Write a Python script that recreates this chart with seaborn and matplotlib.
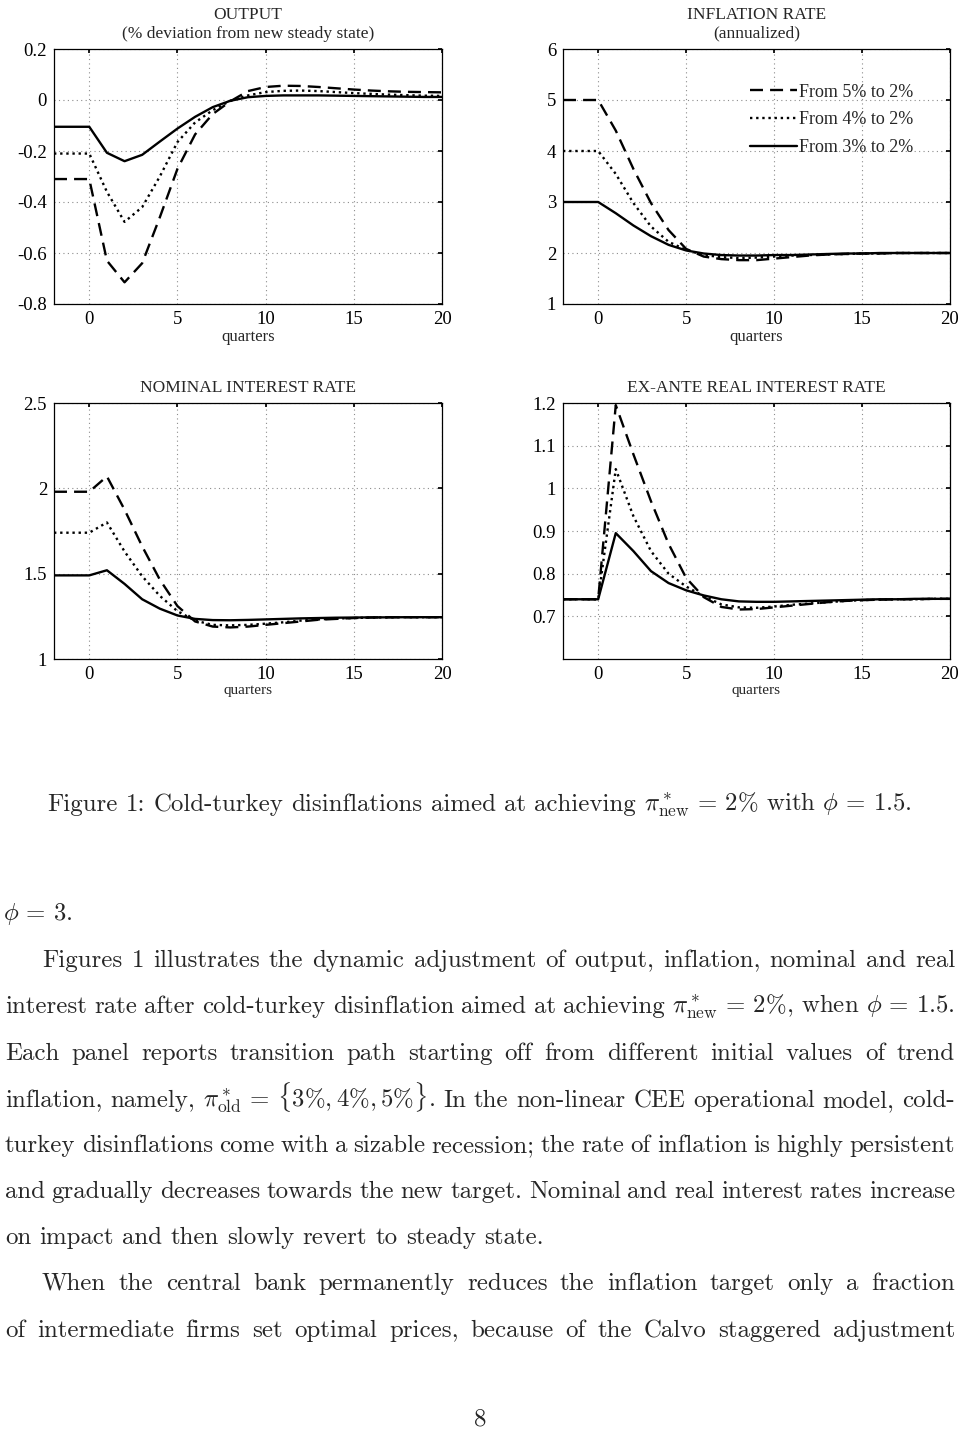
import re

import numpy as np
import pandas as pd
import matplotlib

matplotlib.use("Agg")
import matplotlib.pyplot as plt
from matplotlib.ticker import FuncFormatter
import seaborn as sns

W, H, DPI = 960, 1440, 100

# ---- data (quarters -2 .. 20) ----
quarters = list(range(-2, 21))
labels = ["From 5% to 2%", "From 4% to 2%", "From 3% to 2%"]

output_5 = [-0.31, -0.31, -0.31, -0.63, -0.715, -0.64, -0.46, -0.27, -0.135, -0.055, -0.005,
            0.035, 0.051, 0.056, 0.055, 0.051, 0.046, 0.041, 0.037, 0.034, 0.032, 0.031, 0.030]
output_4 = [-0.21, -0.21, -0.21, -0.36, -0.478, -0.42, -0.30, -0.165, -0.088, -0.04, -0.003,
            0.018, 0.031, 0.036, 0.037, 0.035, 0.031, 0.027, 0.024, 0.021, 0.019, 0.017, 0.016]
output_3 = [-0.105, -0.105, -0.105, -0.207, -0.240, -0.215, -0.163, -0.112, -0.066, -0.028, -0.003,
            0.011, 0.016, 0.018, 0.018, 0.018, 0.017, 0.016, 0.015, 0.014, 0.013, 0.012, 0.012]

infl_5 = [5, 5, 5, 4.40, 3.65, 2.98, 2.45, 2.08, 1.93, 1.88, 1.86, 1.86, 1.89, 1.92,
          1.95, 1.97, 1.98, 1.99, 1.99, 2.0, 2.0, 2.0, 2.0]
infl_4 = [4, 4, 4, 3.55, 2.98, 2.52, 2.22, 2.06, 1.96, 1.92, 1.90, 1.91, 1.93, 1.95,
          1.96, 1.97, 1.98, 1.99, 1.99, 2.0, 2.0, 2.0, 2.0]
infl_3 = [3, 3, 3, 2.78, 2.54, 2.33, 2.16, 2.05, 1.99, 1.96, 1.95, 1.95, 1.96, 1.96,
          1.97, 1.98, 1.99, 1.99, 2.0, 2.0, 2.0, 2.0, 2.0]

nom_5 = [1.98, 1.98, 1.98, 2.07, 1.875, 1.66, 1.465, 1.31, 1.22, 1.19, 1.185, 1.19, 1.20,
         1.21, 1.22, 1.23, 1.235, 1.24, 1.243, 1.245, 1.245, 1.245, 1.245]
nom_4 = [1.74, 1.74, 1.74, 1.80, 1.63, 1.485, 1.37, 1.28, 1.225, 1.20, 1.197, 1.20, 1.207,
         1.215, 1.225, 1.232, 1.237, 1.24, 1.243, 1.244, 1.245, 1.245, 1.245]
nom_3 = [1.49, 1.49, 1.49, 1.52, 1.44, 1.35, 1.295, 1.255, 1.235, 1.228, 1.227, 1.229, 1.232,
         1.235, 1.238, 1.24, 1.242, 1.243, 1.244, 1.244, 1.245, 1.245, 1.245]

real_5 = [0.74, 0.74, 0.74, 1.195, 1.08, 0.97, 0.87, 0.79, 0.745, 0.722, 0.716, 0.717, 0.721,
          0.725, 0.729, 0.733, 0.736, 0.738, 0.739, 0.740, 0.740, 0.741, 0.741]
real_4 = [0.74, 0.74, 0.74, 1.045, 0.935, 0.853, 0.80, 0.77, 0.747, 0.728, 0.721, 0.72, 0.723,
          0.727, 0.73, 0.733, 0.736, 0.738, 0.739, 0.74, 0.74, 0.741, 0.741]
real_3 = [0.74, 0.74, 0.74, 0.895, 0.853, 0.806, 0.778, 0.761, 0.749, 0.74, 0.735, 0.734, 0.734,
          0.735, 0.736, 0.737, 0.738, 0.739, 0.74, 0.74, 0.741, 0.741, 0.741]

output_ticks = [-0.8, -0.6, -0.4, -0.2, 0, 0.2]
infl_ticks = [1, 2, 3, 4, 5, 6]
nom_ticks = [1, 1.5, 2, 2.5]
real_ticks = [0.7, 0.8, 0.9, 1, 1.1, 1.2]
x_ticks = [0, 5, 10, 15, 20]

caption = r"Figure 1: Cold-turkey disinflations aimed at achieving $\pi^*_{\mathrm{new}}\,=\,2\%$ with $\phi\,=\,1.5$."
body = [
    r"Figures 1 illustrates the dynamic adjustment of output, inflation, nominal and real",
    r"interest rate after cold-turkey disinflation aimed at achieving $\pi^*_{\mathrm{new}}\,=\,2\%$, when $\phi\,=\,1.5$.",
    r"Each panel reports transition path starting off from different initial values of trend",
    r"inflation, namely, $\pi^*_{\mathrm{old}}\,=\,\{3\%,4\%,5\%\}$. In the non-linear CEE operational model, cold-",
    r"turkey disinflations come with a sizable recession; the rate of inflation is highly persistent",
    r"and gradually decreases towards the new target. Nominal and real interest rates increase",
    r"on impact and then slowly revert to steady state.",
    r"When the central bank permanently reduces the inflation target only a fraction",
    r"of intermediate firms set optimal prices, because of the Calvo staggered adjustment",
]

# ---- style ----
sns.set_theme(style="white")
plt.rcParams["font.family"] = ["Liberation Serif", "DejaVu Serif"]
plt.rcParams["mathtext.fontset"] = "cm"
plt.rcParams["axes.unicode_minus"] = False

STYLES = [(0, (5.5, 3.0)), (0, (1.0, 1.6)), "-"]


def px_axes(fig, left, top, right, bottom):
    return fig.add_axes([left / W, 1 - bottom / H, (right - left) / W, (bottom - top) / H])


def panel(ax, series, title, ylim, yticks, xlabel_size=12):
    for vals, lab, ls in zip(series, labels, STYLES):
        sns.lineplot(x=quarters, y=vals, ax=ax, color="black", linewidth=1.7,
                     linestyle=ls, label=lab, legend=False)
    ax.set_xlim(-2, 20)
    ax.set_ylim(*ylim)
    ax.set_xticks(x_ticks)
    ax.set_yticks(yticks)
    ax.yaxis.set_major_formatter(FuncFormatter(lambda v, p: "%g" % round(v, 2)))
    ax.grid(True, linestyle=(0, (1, 3)), color="0.55", linewidth=0.8)
    ax.tick_params(direction="in", length=3, labelsize=13.5, pad=5,
                   top=True, right=True, colors="black")
    for s in ax.spines.values():
        s.set_color("black")
        s.set_linewidth(0.9)
    ax.set_title(title, fontsize=12.5, pad=8, linespacing=1.25)
    ax.set_xlabel("quarters", fontsize=xlabel_size, labelpad=1)
    ax.set_ylabel("")


fig = plt.figure(figsize=(W / DPI, H / DPI), dpi=DPI)

ax1 = px_axes(fig, 54, 49, 442, 304)
panel(ax1, [output_5, output_4, output_3],
      "OUTPUT\n(% deviation from new steady state)", (-0.8, 0.2), output_ticks)

ax2 = px_axes(fig, 563, 49, 950, 304)
panel(ax2, [infl_5, infl_4, infl_3], "INFLATION RATE\n(annualized)", (1, 6), infl_ticks)
ax2.legend(loc="upper right", bbox_to_anchor=(0.937, 0.914), frameon=False, fontsize=13,
           handlelength=2.6, handletextpad=0.1, labelspacing=0.6, borderpad=0.2)

ax3 = px_axes(fig, 54, 403, 442, 659)
panel(ax3, [nom_5, nom_4, nom_3], "NOMINAL INTEREST RATE", (1, 2.5), nom_ticks, 11)

ax4 = px_axes(fig, 563, 403, 950, 659)
panel(ax4, [real_5, real_4, real_3], "EX-ANTE REAL INTEREST RATE", (0.6, 1.2), real_ticks, 11)

# ---- caption and body text (justified lines) ----
renderer = fig.canvas.get_renderer()
TXT = 17.9


def put_line(text, base, x0=5, x1=955, justify=True, size=TXT):
    tokens = re.findall(r"\S*\$[^$]*\$\S*|\S+", text)
    arts = [fig.text(0, 1 - base / H, t, fontsize=size, family="cmr10", va="baseline")
            for t in tokens]
    widths = [a.get_window_extent(renderer).width for a in arts]
    gap = size * DPI / 72 * 0.333
    if justify and len(arts) > 1:
        gap = (x1 - x0 - sum(widths)) / (len(arts) - 1)
    x = x0
    for a, w in zip(arts, widths):
        a.set_x(x / W)
        x += w + gap


put_line(caption, 811, x0=47, x1=912, justify=True, size=17.9)
put_line(r"$\phi\,=\,3$.", 920, x0=3, justify=False)

bases = [967, 1013, 1060, 1107, 1152, 1198, 1244, 1290, 1337]
for i, (line, b) in enumerate(zip(body, bases)):
    indent = 42 if i in (0, 7) else 5
    put_line(line, b, x0=indent, justify=(i != 6))

fig.text(480 / W, 1 - 1425 / H, "8", family="cmr10", fontsize=TXT, ha="center", va="baseline")

fig.savefig("out.png", dpi=DPI)
